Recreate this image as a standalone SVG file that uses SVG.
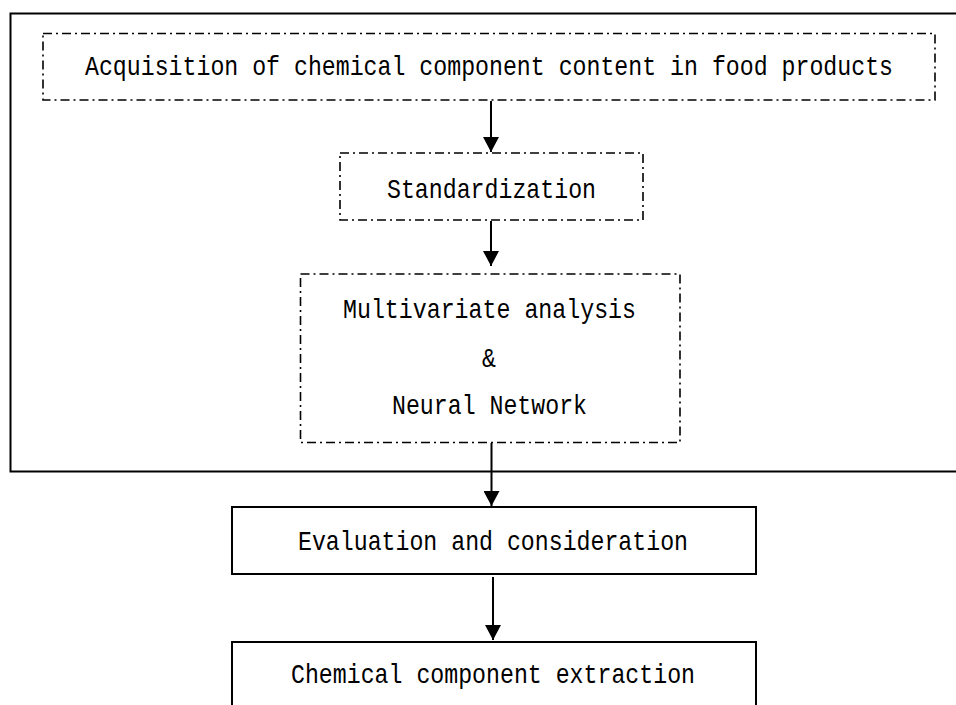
<svg xmlns="http://www.w3.org/2000/svg" width="956" height="705" viewBox="0 0 956 705">
<style>
.t{font-family:"Liberation Mono","DejaVu Sans Mono",monospace;font-size:23.2px;fill:#000}
.dd{fill:none;stroke:#000;stroke-width:1.6;stroke-dasharray:9 4 2 4}
.solid{fill:#fff;stroke:#000;stroke-width:2}
.frame{fill:none;stroke:#000;stroke-width:2}
.ln{stroke:#000;stroke-width:2;fill:none}
</style>
<defs>
<marker id="ah" viewBox="0 0 15 16" refX="15" refY="8" markerWidth="15" markerHeight="16" markerUnits="userSpaceOnUse" orient="auto">
<path d="M0,0 L15,8 L0,16 Z" fill="#000"/>
</marker>
</defs>
<rect width="956" height="705" fill="#fff"/>
<g id="frame">
<rect class="frame" x="10.5" y="13.5" width="950" height="458"/>
</g>
<g id="connectors">
<line class="ln" x1="491" y1="101" x2="491" y2="152" marker-end="url(#ah)"/>
<line class="ln" x1="491" y1="221" x2="491" y2="266" marker-end="url(#ah)"/>
<line class="ln" x1="491.5" y1="443" x2="491.5" y2="506" marker-end="url(#ah)"/>
<line class="ln" x1="493" y1="577" x2="493" y2="640" marker-end="url(#ah)"/>
</g>
<g id="n1">
<rect class="dd" x="43" y="33.5" width="892" height="66.5"/>
<text class="t" transform="translate(85,75) scale(1,1.2)" textLength="808" lengthAdjust="spacingAndGlyphs">Acquisition of chemical component content in food products</text>
</g>
<g id="n2">
<rect class="dd" x="340" y="153" width="303" height="67"/>
<text class="t" transform="translate(387,198) scale(1,1.2)" textLength="209" lengthAdjust="spacingAndGlyphs">Standardization</text>
</g>
<g id="n3">
<rect class="dd" x="300.5" y="274" width="379.5" height="168.5"/>
<text class="t" transform="translate(343,318) scale(1,1.2)" textLength="293" lengthAdjust="spacingAndGlyphs">Multivariate analysis</text>
<text class="t" transform="translate(489,367) scale(1,1.2)" text-anchor="middle">&amp;</text>
<text class="t" transform="translate(392,414) scale(1,1.2)" textLength="195" lengthAdjust="spacingAndGlyphs">Neural Network</text>
</g>
<g id="n4">
<rect class="solid" x="232" y="507" width="524" height="67"/>
<text class="t" transform="translate(298,550) scale(1,1.2)" textLength="390" lengthAdjust="spacingAndGlyphs">Evaluation and consideration</text>
</g>
<g id="n5">
<rect class="solid" x="232" y="642" width="524" height="80"/>
<text class="t" transform="translate(291,683) scale(1,1.2)" textLength="404" lengthAdjust="spacingAndGlyphs">Chemical component extraction</text>
</g>
</svg>
